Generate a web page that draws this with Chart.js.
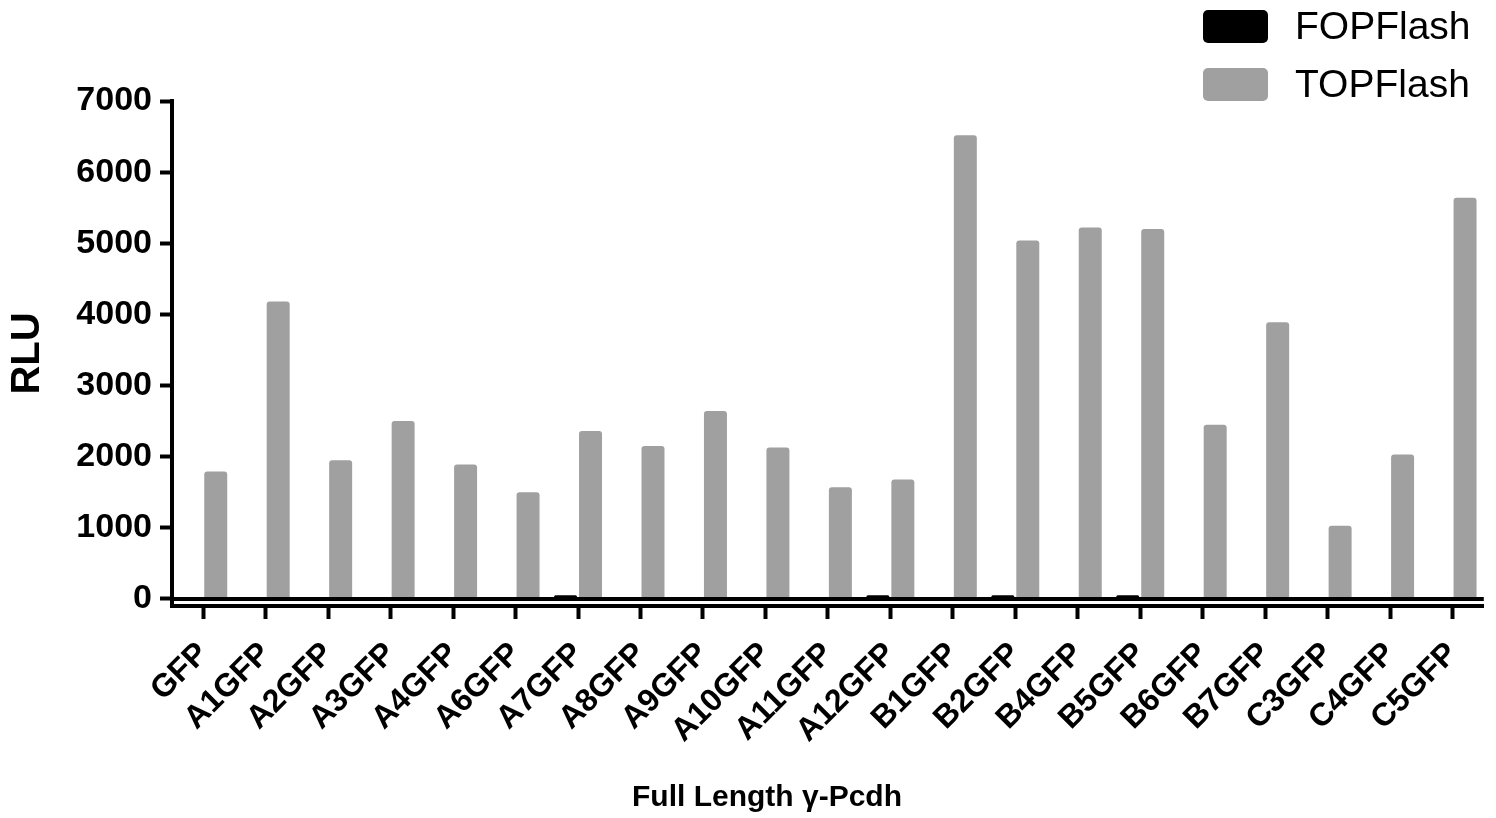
<!DOCTYPE html>
<html>
<head>
<meta charset="utf-8">
<script src="https://cdn.jsdelivr.net/npm/chart.js@4.4.0/dist/chart.umd.min.js"></script>
<style>
  html, body { margin: 0; padding: 0; background: #fff; }
  #wrap { width: 1496px; height: 818px; }
</style>
</head>
<body>
<div id="wrap"><canvas id="rluChart" width="1496" height="818"></canvas></div>
<script>
// data
const constructs = ['GFP', 'A1GFP', 'A2GFP', 'A3GFP', 'A4GFP', 'A6GFP', 'A7GFP', 'A8GFP', 'A9GFP', 'A10GFP',
  'A11GFP', 'A12GFP', 'B1GFP', 'B2GFP', 'B4GFP', 'B5GFP', 'B6GFP', 'B7GFP', 'C3GFP', 'C4GFP', 'C5GFP'];
const fopFlash = [20, 20, 20, 20, 20, 20, 50, 20, 20, 20, 20, 50, 20, 50, 20, 50, 20, 20, 20, 20, 20];
const topFlash = [1790, 4180, 1950, 2500, 1890, 1500, 2360, 2150, 2640, 2130,
  1570, 1680, 6520, 5040, 5220, 5200, 2450, 3890, 1030, 2030, 5640];
const yTicks = [0, 1000, 2000, 3000, 4000, 5000, 6000, 7000];

const FONT = '"Liberation Sans", Arial, Helvetica, sans-serif';

// baseline at y = 0, drawn over the bar feet
const zeroLine = {
  id: 'zeroLine',
  afterDatasetsDraw(chart) {
    const c = chart.ctx, area = chart.chartArea;
    const y = chart.scales.y.getPixelForValue(0);
    c.save();
    c.strokeStyle = '#000';
    c.lineWidth = 4;
    c.beginPath();
    c.moveTo(area.left, y);
    c.lineTo(area.right, y);
    c.stroke();
    c.restore();
  }
};

// legend top right + x title
const extras = {
  id: 'extras',
  afterDraw(chart) {
    const c = chart.ctx;
    c.save();
    chart.data.datasets.forEach((ds, i) => {
      const top = 10 + i * 58;
      c.fillStyle = ds.backgroundColor;
      c.beginPath();
      c.roundRect(1203, top, 65, 33, 5);
      c.fill();
      c.fillStyle = '#000';
      c.font = '39px ' + FONT;
      c.textBaseline = 'middle';
      c.textAlign = 'left';
      c.fillText(ds.label, 1295, top + 18);
    });
    c.font = 'bold 30px ' + FONT;
    c.textAlign = 'center';
    c.textBaseline = 'middle';
    c.fillText('Full Length \u03b3-Pcdh', 767, 798);
    c.restore();
  }
};

const ctx = document.getElementById('rluChart').getContext('2d');
const rluChart = new Chart(ctx, {
  type: 'bar',
  data: {
    labels: constructs,
    datasets: [
      { label: 'FOPFlash', data: fopFlash, backgroundColor: '#000000', borderRadius: 3, borderSkipped: false },
      { label: 'TOPFlash', data: topFlash, backgroundColor: '#a0a0a0', borderRadius: 3, borderSkipped: 'bottom' }
    ]
  },
  options: {
    responsive: false,
    animation: false,
    categoryPercentage: 0.8,
    barPercentage: 0.92,
    layout: { padding: { top: 101, right: 12, left: 0, bottom: 0 } },
    plugins: { legend: { display: false }, tooltip: { enabled: false } },
    scales: {
      x: {
        offset: true,
        grid: { offset: false, drawOnChartArea: false, color: '#000', tickLength: 13, tickWidth: 4 },
        border: { color: '#000', width: 4 },
        ticks: {
          color: '#000',
          font: { family: FONT, size: 32, weight: 'bold' },
          minRotation: 45, maxRotation: 45, autoSkip: false, padding: 16
        },
        afterFit(scale) { scale.height = 212; }
      },
      y: {
        min: -100,
        max: 7000,
        afterBuildTicks(scale) { scale.ticks = yTicks.map(v => ({ value: v })); },
        grid: { drawOnChartArea: false, color: '#000', tickLength: 12, tickWidth: 4 },
        border: { color: '#000', width: 4 },
        ticks: {
          color: '#000',
          font: { family: FONT, size: 34, weight: 'bold' },
          padding: 8,
          callback: v => String(v)
        },
        title: {
          display: true,
          text: 'RLU',
          color: '#000',
          font: { family: FONT, size: 40, weight: 'bold' }
        },
        afterFit(scale) { scale.width = 172; }
      }
    }
  },
  plugins: [zeroLine, extras]
});
</script>
</body>
</html>
